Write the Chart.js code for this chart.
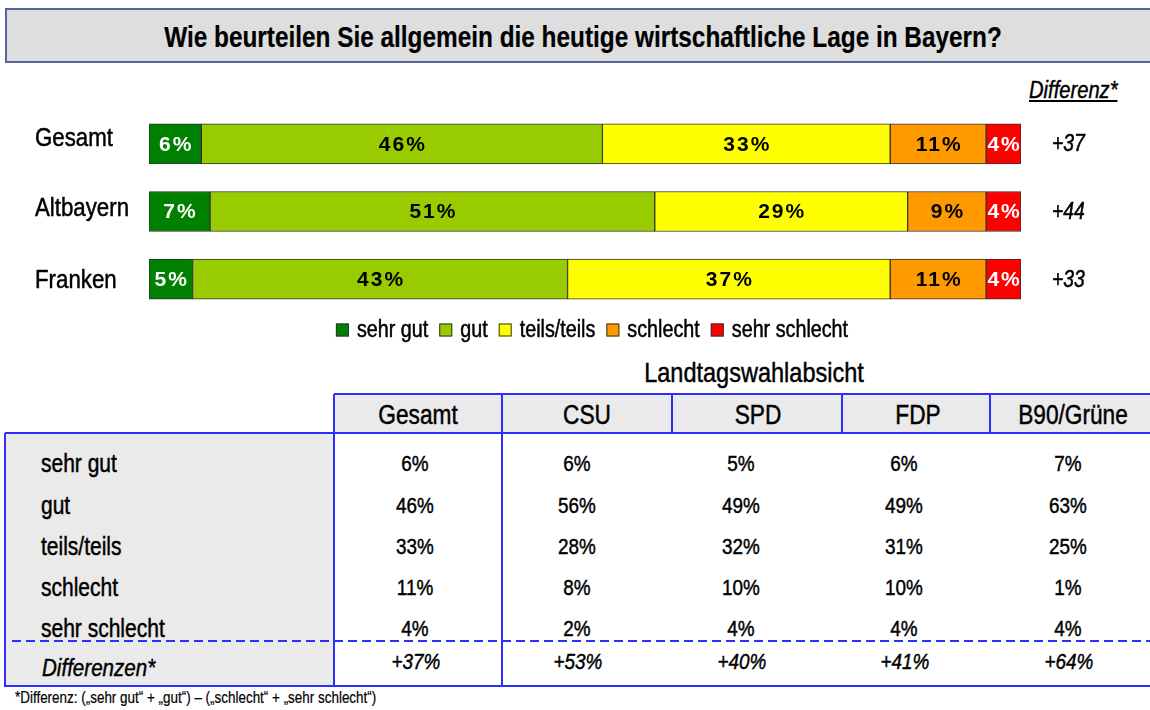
<!DOCTYPE html>
<html><head><meta charset="utf-8">
<script src="https://cdn.jsdelivr.net/npm/chart.js@4.4.1/dist/chart.umd.min.js"></script>
<style>
html,body{margin:0;padding:0;background:#fff;}
body{width:1150px;height:710px;position:relative;overflow:hidden;font-family:"Liberation Sans",Arial,sans-serif;color:#000;}
.c{position:absolute;white-space:nowrap;line-height:1;transform:translate(-50%,-50%) scaleX(0.84);-webkit-text-stroke:0.45px #000;}
.l{position:absolute;white-space:nowrap;line-height:1;transform:translate(0,-50%) scaleX(0.84);transform-origin:left center;-webkit-text-stroke:0.45px #000;}
.ln{position:absolute;background:#2e2eff;}
#title{position:absolute;left:5px;top:8px;width:1160px;height:51px;background:#dedede;border-top:2px solid #55649a;border-bottom:2px solid #55649a;border-left:2px solid #55649a;}
#chartBox{position:absolute;left:0;top:100px;width:1150px;height:250px;}
</style></head><body>
<div id="title"></div>
<div class="c" style="left:583px;top:37px;font-size:29px;font-weight:bold;-webkit-text-stroke:0.2px #000;">Wie beurteilen Sie allgemein die heutige wirtschaftliche Lage in Bayern?</div>
<div class="l" style="left:1029px;top:90px;font-size:24px;font-style:italic;text-decoration:underline;">Differenz*</div>
<div id="chartBox"><canvas id="c"></canvas></div>
<div id="table"></div>
<div class="l" style="left:15px;top:698px;font-size:16px;-webkit-text-stroke:0.2px #000;">*Differenz: („sehr gut“ + „gut“) – („schlecht“ + „sehr schlecht“)</div>
<script>
// ---- chart data ----
const regions = ['Gesamt', 'Altbayern', 'Franken'];
const seriesNames = ['sehr gut', 'gut', 'teils/teils', 'schlecht', 'sehr schlecht'];
const sehrGut = [6, 7, 5];
const gut = [46, 51, 43];
const teilsTeils = [33, 29, 37];
const schlecht = [11, 9, 11];
const sehrSchlecht = [4, 4, 4];
const differenz = ['+37', '+44', '+33'];

// ---- table data ----
const tableColumns = ['Gesamt', 'CSU', 'SPD', 'FDP', 'B90/Grüne'];
const tableRows = ['sehr gut', 'gut', 'teils/teils', 'schlecht', 'sehr schlecht'];
const colGesamt = [6, 46, 33, 11, 4];
const colCSU = [6, 56, 28, 8, 2];
const colSPD = [5, 49, 32, 10, 4];
const colFDP = [6, 49, 31, 10, 4];
const colGruene = [7, 63, 25, 1, 4];
const differenzen = ['+37%', '+53%', '+40%', '+41%', '+64%'];

// ---- styling / layout ----
const fam = '"Liberation Sans", Arial, sans-serif';
const NARROW = 0.84;
const colors = ['#008000', '#99cc00', '#ffff00', '#ff9900', '#ff0000'];
const labelColors = ['#fff', '#000', '#000', '#000', '#fff'];
const rowLabelNudge = [-5, -3, 2];

const seriesData = [sehrGut, gut, teilsTeils, schlecht, sehrSchlecht];
const datasets = seriesNames.map((n, i) => ({
  label: n, data: seriesData[i], backgroundColor: colors[i], labelColor: labelColors[i]
}));

function narrowText(ctx, txt, x, y, font, align) {
  ctx.save();
  ctx.font = font;
  ctx.textAlign = align;
  ctx.textBaseline = 'middle';
  ctx.fillStyle = '#000';
  ctx.strokeStyle = '#000';
  ctx.lineWidth = 0.5;
  ctx.translate(x, y);
  ctx.scale(NARROW, 1);
  ctx.fillText(txt, 0, 0);
  ctx.strokeText(txt, 0, 0);
  ctx.restore();
}

const barLabels = {
  id: 'barLabels',
  afterDatasetsDraw(chart) {
    const ctx = chart.ctx;
    ctx.save();
    ctx.font = 'bold 21px ' + fam;
    ctx.textBaseline = 'middle';
    ctx.textAlign = 'center';
    ctx.letterSpacing = '2px';
    chart.data.datasets.forEach((ds, i) => {
      const meta = chart.getDatasetMeta(i);
      meta.data.forEach((el, j) => {
        ctx.fillStyle = ds.labelColor;
        ctx.fillText(ds.data[j] + '%', (el.x + el.base) / 2 + 1, el.y + 1);
      });
    });
    ctx.restore();
  }
};

const sideText = {
  id: 'sideText',
  afterDraw(chart) {
    const ctx = chart.ctx, ys = chart.scales.y, area = chart.chartArea;
    regions.forEach((r, i) => {
      const y = ys.getPixelForValue(i);
      narrowText(ctx, r, 35, y + rowLabelNudge[i], '26.5px ' + fam, 'left');
      narrowText(ctx, differenz[i], area.right + 31, y + 1, 'italic 23px ' + fam, 'left');
    });
    // legend built from the datasets
    const font = '23.5px ' + fam;
    ctx.save();
    ctx.font = font;
    const items = chart.data.datasets.map(ds => ({ ds, w: ctx.measureText(ds.label).width * NARROW }));
    ctx.restore();
    const box = 13, gapText = 8, gapItem = 11;
    const total = items.reduce((s, it) => s + box + gapText + it.w, 0) + gapItem * (items.length - 1);
    let x = 592 - total / 2;
    const ly = area.bottom + 17;
    items.forEach(it => {
      ctx.save();
      ctx.fillStyle = it.ds.backgroundColor;
      ctx.fillRect(x, ly - box / 2, box, box);
      ctx.strokeStyle = '#333';
      ctx.lineWidth = 1;
      ctx.strokeRect(x + 0.5, ly - box / 2 + 0.5, box - 1, box - 1);
      ctx.restore();
      narrowText(ctx, it.ds.label, x + box + gapText, ly + 1, font, 'left');
      x += box + gapText + it.w + gapItem;
    });
  }
};

new Chart(document.getElementById('c'), {
  type: 'bar',
  data: { labels: regions, datasets },
  options: {
    indexAxis: 'y', animation: false, responsive: true, maintainAspectRatio: false,
    layout: { padding: { left: 149, top: 10, right: 129, bottom: 37 } },
    datasets: { bar: { barThickness: 40, borderWidth: 1, borderColor: '#333', borderSkipped: false } },
    scales: {
      x: { stacked: true, min: 0, max: 100, display: false },
      y: { stacked: true, display: false }
    },
    plugins: { legend: { display: false }, tooltip: { enabled: false } }
  },
  plugins: [barLabels, sideText]
});

// ---- table (built from the arrays) ----
const headCenters = [418, 587, 758, 918, 1073];
const valCenters = [415, 577, 741, 904, 1068];
const rowCenters = [463, 505, 546, 587, 628];
const tbl = document.getElementById('table');
function add(html) { tbl.insertAdjacentHTML('beforeend', html); }
function rect(x, y, w, h, bg) { add(`<div style="position:absolute;left:${x}px;top:${y}px;width:${w}px;height:${h}px;background:${bg}"></div>`); }

rect(334, 394, 816, 39, '#eaeaea');
rect(5, 433, 329, 253, '#eaeaea');
add(`<div class="c" style="left:754px;top:373px;font-size:28px;">Landtagswahlabsicht</div>`);
tableColumns.forEach((c, i) => add(`<div class="c" style="left:${headCenters[i]}px;top:415px;font-size:27px;">${c}</div>`));
const cols = [colGesamt, colCSU, colSPD, colFDP, colGruene];
tableRows.forEach((r, j) => {
  add(`<div class="l" style="left:41px;top:${rowCenters[j]}px;font-size:25px;">${r}</div>`);
  cols.forEach((col, i) => add(`<div class="c" style="left:${valCenters[i]}px;top:${rowCenters[j] + 1}px;font-size:22.5px;">${col[j]}%</div>`));
});
add(`<div class="l" style="left:42px;top:668px;font-size:24.5px;font-style:italic;">Differenzen*</div>`);
differenzen.forEach((d, i) => add(`<div class="c" style="left:${valCenters[i] + 1}px;top:662px;font-size:22.5px;font-style:italic;">${d}</div>`));
// lines
function hl(x1, x2, y) { add(`<div class="ln" style="left:${x1}px;top:${y - 1}px;width:${x2 - x1}px;height:2px"></div>`); }
function vl(x, y1, y2) { add(`<div class="ln" style="left:${x - 1}px;top:${y1}px;width:2px;height:${y2 - y1}px"></div>`); }
hl(334, 1150, 394); hl(5, 1150, 433); hl(5, 1150, 686);
vl(5, 433, 687); vl(334, 394, 687); vl(502, 394, 687);
[672, 842, 990].forEach(x => vl(x, 394, 434));
add(`<div style="position:absolute;left:12px;top:640px;width:1138px;height:2px;background:repeating-linear-gradient(to right,#2e2eff 0 9px,transparent 9px 14px)"></div>`);
</script>
</body></html>
